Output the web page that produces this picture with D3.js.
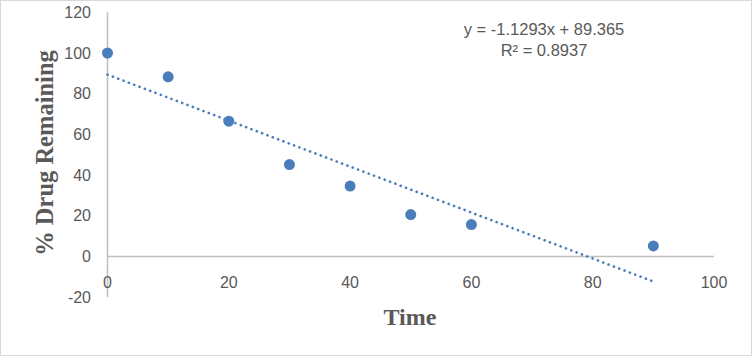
<!DOCTYPE html>
<html><head><meta charset="utf-8">
<script src="https://cdn.jsdelivr.net/npm/d3@7"></script>
<style>body{margin:0;background:#fff}svg{display:block}</style>
</head><body>
<script>
const times = [0, 10, 20, 30, 40, 50, 60, 90];
const drugRemaining = [100, 88.3, 66.5, 45.2, 34.6, 20.6, 15.7, 5.2];
const xTicks = [0, 20, 40, 60, 80, 100];
const yTicks = [-20, 0, 20, 40, 60, 80, 100, 120];
const slope = -1.1293, intercept = 89.365;
const eqLines = ["y = -1.1293x + 89.365", "R² = 0.8937"];

const W = 752, H = 356;
const svg = d3.select("body").append("svg").attr("width", W).attr("height", H);
svg.append("rect").attr("x", 0.5).attr("y", 0.5).attr("width", W - 1).attr("height", H - 1)
  .attr("fill", "#fff").attr("stroke", "#d9d9d9");

const x = d3.scaleLinear().domain([0, 100]).range([107.5, 714]);
const y = d3.scaleLinear().domain([-20, 120]).range([297.2, 12.3]);

const axisColor = "#bfbfbf", textColor = "#595959";
const tickFont = "'Liberation Sans', Arial, sans-serif";

svg.append("line").attr("x1", x(0)).attr("x2", x(0)).attr("y1", y(120)).attr("y2", y(-20))
  .attr("stroke", axisColor).attr("stroke-width", 1.5);
svg.append("line").attr("x1", x(0)).attr("x2", x(100)).attr("y1", y(0)).attr("y2", y(0))
  .attr("stroke", axisColor).attr("stroke-width", 1.5);

svg.append("g").selectAll("text").data(yTicks).join("text")
  .attr("x", 91).attr("y", d => y(d)).attr("dy", "0.35em").attr("text-anchor", "end")
  .attr("font-family", tickFont).attr("font-size", 16).attr("fill", textColor).text(d => d);

svg.append("g").selectAll("text").data(xTicks).join("text")
  .attr("x", d => x(d)).attr("y", 282).attr("dy", "0.35em").attr("text-anchor", "middle")
  .attr("font-family", tickFont).attr("font-size", 16).attr("fill", textColor).text(d => d);

const tl = [0, 90];
svg.append("line").attr("x1", x(tl[0])).attr("y1", y(intercept + slope * tl[0]))
  .attr("x2", x(tl[1])).attr("y2", y(intercept + slope * tl[1]))
  .attr("stroke", "#4a7ebb").attr("stroke-width", 2.6).attr("stroke-linecap", "round")
  .attr("stroke-dasharray", "0.1 5.6");

svg.append("g").selectAll("circle").data(times).join("circle")
  .attr("cx", d => x(d)).attr("cy", (d, i) => y(drugRemaining[i])).attr("r", 5.5)
  .attr("fill", "#4a7ebb");

svg.append("g").selectAll("text").data(eqLines).join("text")
  .attr("x", 544).attr("y", (d, i) => 29 + i * 21).attr("dy", "0.35em").attr("text-anchor", "middle")
  .attr("font-family", tickFont).attr("font-size", 16.5).attr("fill", textColor).text(d => d);

svg.append("text").attr("transform", "translate(44,153) rotate(-90)").attr("text-anchor", "middle")
  .attr("dy", "0.35em").attr("font-family", "'Liberation Serif', 'Times New Roman', serif")
  .attr("font-weight", "bold").attr("font-size", 24.5).attr("fill", textColor).text("% Drug Remaining");
svg.append("text").attr("x", 410).attr("y", 317).attr("text-anchor", "middle").attr("dy", "0.35em")
  .attr("font-family", "'Liberation Serif', 'Times New Roman', serif")
  .attr("font-weight", "bold").attr("font-size", 24).attr("fill", textColor).text("Time");
</script>
</body></html>
